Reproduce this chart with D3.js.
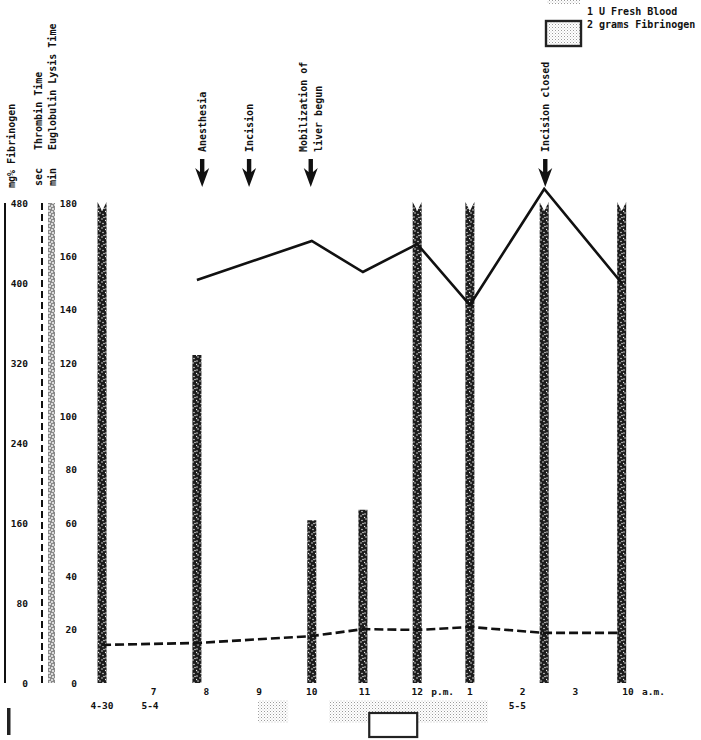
<!DOCTYPE html>
<html>
<head>
<meta charset="utf-8">
<script src="https://cdn.jsdelivr.net/npm/d3@7"></script>
<style>
  body { margin: 0; background: #fff; }
  text { font-family: "DejaVu Sans Mono", "Liberation Mono", monospace; font-weight: bold; fill: #111; }
</style>
</head>
<body>
<svg id="chart" width="701" height="740"></svg>
<script>
// sample times, hours of the operating day (6 = 4-30 baseline, 16 = 10 a.m. next day)
const sampleHours = [6.02, 7.82, 10.0, 10.97, 12.0, 13.0, 14.41, 15.88];
const lysisMin = [180, 123, 61, 65, 180, 180, 180, 180];
const lysisOffScale = [true, false, false, false, true, true, true, true];
const thrombinSec = [14.3, 15.0, 17.6, 20.2, 19.9, 21.0, 18.8, 18.8];
const fibrinogenMg = [null, 403, 442, 411, 439, 378, 494, 400];

const hourTicks = [7, 8, 9, 10, 11, 12, 13, 14, 15, 16];
const hourLabels = ["7", "8", "9", "10", "11", "12", "1", "2", "3", "10"];
const hourSuffix = ["", "", "", "", "", "p.m.", "", "", "", "a.m."];
const dateHours = [6.02, 6.93, 13.9];
const dateLabels = ["4-30", "5-4", "5-5"];

const fibTicks = [0, 80, 160, 240, 320, 400, 480];
const minTicks = [0, 20, 40, 60, 80, 100, 120, 140, 160, 180];

const eventHours = [7.92, 8.81, 9.98, 14.43];
const eventLabels = [["Anesthesia"], ["Incision"], ["Mobilization of", "liver begun"], ["Incision closed"]];

const bloodUnits = [[8.98, 9.55], [10.33, 13.34]];
const fibrinogenDoses = [[11.09, 12.0]];

const svg = d3.select("#chart");

const x = d3.scaleLinear().domain([6, 16]).range([101, 628]);
const yFib = d3.scaleLinear().domain([0, 480]).range([683, 203]);
const yMin = d3.scaleLinear().domain([0, 180]).range([683, 203]);

// textures
const defs = svg.append("defs");
const dark = defs.append("pattern").attr("id", "dark")
  .attr("width", 7).attr("height", 9).attr("patternUnits", "userSpaceOnUse");
dark.append("rect").attr("width", 7).attr("height", 9).attr("fill", "#1c1c1c");
[[1, 1], [4, 3], [2, 6], [5, 7.5], [6, 1.5], [0.5, 4.5]].forEach(p =>
  dark.append("circle").attr("cx", p[0]).attr("cy", p[1]).attr("r", 0.75).attr("fill", "#eee"));

const light = defs.append("pattern").attr("id", "light")
  .attr("width", 6).attr("height", 6).attr("patternUnits", "userSpaceOnUse");
light.append("rect").attr("width", 6).attr("height", 6).attr("fill", "#8a8a8a");
[[1, 1], [4, 2], [2, 4], [5, 5]].forEach(p =>
  light.append("circle").attr("cx", p[0]).attr("cy", p[1]).attr("r", 1).attr("fill", "#f4f4f4"));

const stipple = defs.append("pattern").attr("id", "stipple")
  .attr("width", 3).attr("height", 3).attr("patternUnits", "userSpaceOnUse");
stipple.append("rect").attr("width", 3).attr("height", 3).attr("fill", "#fff");
stipple.append("rect").attr("width", 1).attr("height", 1).attr("fill", "#9a9a9a");
stipple.append("rect").attr("x", 1.5).attr("y", 1.5).attr("width", 1).attr("height", 1).attr("fill", "#c4c4c4");

// left axes
svg.append("line").attr("x1", 5).attr("x2", 5)
  .attr("y1", yFib(480)).attr("y2", yFib(0))
  .attr("stroke", "#111").attr("stroke-width", 2);

svg.append("line").attr("x1", 42).attr("x2", 42)
  .attr("y1", yMin(180)).attr("y2", yMin(0))
  .attr("stroke", "#111").attr("stroke-width", 2).attr("stroke-dasharray", "7,4");

svg.append("rect").attr("x", 48).attr("width", 7)
  .attr("y", yMin(180)).attr("height", yMin(0) - yMin(180))
  .attr("fill", "url(#light)");

const fibAxis = svg.append("g").attr("transform", "translate(28,0)")
  .call(d3.axisLeft(yFib).tickValues(fibTicks).tickSize(0).tickPadding(0));
const minAxis = svg.append("g").attr("transform", "translate(77,0)")
  .call(d3.axisLeft(yMin).tickValues(minTicks).tickSize(0).tickPadding(0));
[fibAxis, minAxis].forEach(a => {
  a.select(".domain").remove();
  a.selectAll("text").attr("font-family", null).attr("font-size", 9.5).attr("dy", "0.35em");
});

// rotated axis titles
function vtext(tx, ty, str) {
  svg.append("text").attr("transform", `translate(${tx},${ty}) rotate(-90)`)
    .attr("font-size", 10).text(str);
}
vtext(15, 188, "mg% Fibrinogen");
vtext(42, 186, "sec");
vtext(42, 150, "Thrombin Time");
vtext(56, 186, "min");
vtext(56, 150, "Euglobulin Lysis Time");

// euglobulin lysis time bars
const bw = 9;
svg.append("g").selectAll("path")
  .data(sampleHours.map((h, i) => ({ h, v: lysisMin[i], off: lysisOffScale[i] })))
  .join("path")
  .attr("fill", "url(#dark)")
  .attr("d", d => {
    const x0 = x(d.h) - bw / 2, x1 = x(d.h) + bw / 2, top = yMin(d.v), bot = yMin(0);
    if (d.off) {
      return `M${x0},${bot}L${x0},${top - 1}L${x(d.h)},${top + 8}L${x1},${top - 1}L${x1},${bot}Z`;
    }
    return `M${x0},${bot}L${x0},${top}L${x1},${top}L${x1},${bot}Z`;
  });

// thrombin time (dashed)
svg.append("path")
  .datum(sampleHours.map((h, i) => [h, thrombinSec[i]]))
  .attr("fill", "none").attr("stroke", "#111").attr("stroke-width", 2.6)
  .attr("stroke-dasharray", "9,4")
  .attr("d", d3.line().x(d => x(d[0])).y(d => yMin(d[1])));

// fibrinogen (solid)
svg.append("path")
  .datum(sampleHours.map((h, i) => [h, fibrinogenMg[i]]).filter(d => d[1] != null))
  .attr("fill", "none").attr("stroke", "#111").attr("stroke-width", 2.6)
  .attr("stroke-linejoin", "miter")
  .attr("d", d3.line().x(d => x(d[0])).y(d => yFib(d[1])));

// event arrows
const ev = svg.append("g").selectAll("g")
  .data(eventHours.map((h, i) => ({ h, lines: eventLabels[i] })))
  .join("g")
  .attr("transform", d => `translate(${x(d.h)},0)`);
ev.append("path")
  .attr("fill", "#111")
  .attr("d", "M-2.2,159L2.2,159L2.2,172L7,168L0,187L-7,168L-2.2,172Z");
ev.each(function (d) {
  const n = d.lines.length;
  d.lines.forEach((s, j) => {
    const bx = 4 + (j - (n - 1)) * 15 + (n > 1 ? 7 : 0);
    d3.select(this).append("text")
      .attr("transform", `translate(${bx},152) rotate(-90)`)
      .attr("font-size", 10).text(s);
  });
});

// hour labels
const xl = svg.append("g").selectAll("g")
  .data(hourTicks.map((h, i) => ({ h, t: hourLabels[i], s: hourSuffix[i] })))
  .join("g")
  .attr("transform", d => `translate(${x(d.h)},695)`);
xl.append("text").attr("text-anchor", "middle").attr("font-size", 9.5).text(d => d.t);
xl.filter(d => d.s).append("text").attr("x", 14).attr("font-size", 9.5).text(d => d.s);

svg.append("g").selectAll("text")
  .data(dateHours.map((h, i) => ({ h, t: dateLabels[i] })))
  .join("text")
  .attr("x", d => x(d.h)).attr("y", 709)
  .attr("text-anchor", "middle").attr("font-size", 9.5).text(d => d.t);

// transfusions along the bottom
svg.append("g").selectAll("rect")
  .data(bloodUnits).join("rect")
  .attr("x", d => x(d[0])).attr("width", d => x(d[1]) - x(d[0]))
  .attr("y", 700).attr("height", 23)
  .attr("fill", "url(#stipple)");
svg.append("g").selectAll("rect")
  .data(fibrinogenDoses).join("rect")
  .attr("x", d => x(d[0])).attr("width", d => x(d[1]) - x(d[0]))
  .attr("y", 713).attr("height", 24)
  .attr("fill", "#fff").attr("stroke", "#222").attr("stroke-width", 2.2);

// stray mark bottom left
svg.append("rect").attr("x", 7).attr("y", 708).attr("width", 3.5).attr("height", 27).attr("fill", "#222");

// legend
svg.append("rect").attr("x", 547).attr("y", -10).attr("width", 33).attr("height", 14)
  .attr("fill", "url(#stipple)");
svg.append("rect").attr("x", 546).attr("y", 21).attr("width", 35).attr("height", 25)
  .attr("fill", "url(#stipple)").attr("stroke", "#222").attr("stroke-width", 2.4);
svg.append("text").attr("x", 587).attr("y", 15).attr("font-size", 10).text("1 U Fresh Blood");
svg.append("text").attr("x", 587).attr("y", 28).attr("font-size", 10).text("2 grams Fibrinogen");
</script>
</body>
</html>
